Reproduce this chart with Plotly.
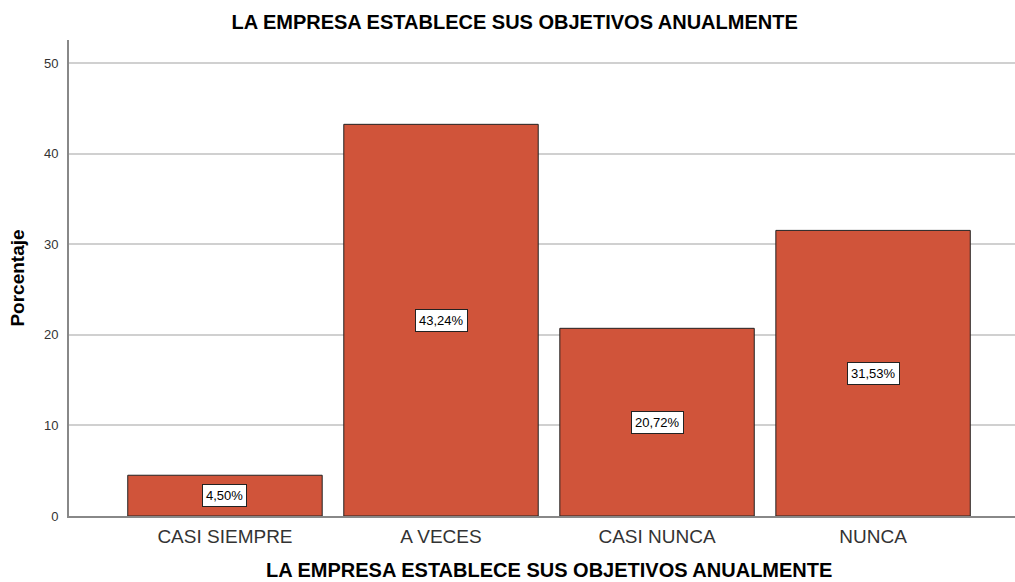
import plotly.graph_objects as go

categories = ["CASI SIEMPRE", "A VECES", "CASI NUNCA", "NUNCA"]
percentages = [4.50, 43.24, 20.72, 31.53]
y_ticks = [0, 10, 20, 30, 40, 50]

TITLE = "LA EMPRESA ESTABLECE SUS OBJETIVOS ANUALMENTE"
FONT = "Liberation Sans, Arial, sans-serif"

fig = go.Figure()
fig.add_bar(
    x=categories, y=percentages,
    marker=dict(color="#D0543A", line=dict(color="#222222", width=1)),
    hoverinfo="x+y",
)

# value labels boxed in the middle of each bar
for cat, val in zip(categories, percentages):
    fig.add_annotation(
        x=cat, y=val / 2,
        text=f"{val:.2f}%".replace(".", ","),
        showarrow=False,
        bgcolor="white", bordercolor="#222222", borderwidth=1, borderpad=3,
        font=dict(size=13, color="black", family=FONT),
    )

# x-axis title, placed as annotation (sits a bit right of the plot centre)
fig.add_annotation(
    x=0.507, y=-0.113, xref="paper", yref="paper",
    xanchor="center", yanchor="middle",
    text=f"<b>{TITLE}</b>", showarrow=False,
    font=dict(size=20, color="black", family=FONT),
)

fig.update_layout(
    width=1015, height=582,
    margin=dict(l=69, r=0, t=40, b=66, autoexpand=False),
    plot_bgcolor="white", paper_bgcolor="white",
    bargap=0.10,
    showlegend=False,
    font=dict(family=FONT, color="black"),
    title=dict(text=f"<b>{TITLE}</b>", x=0.507, xanchor="center",
               y=1 - 22 / 582, yanchor="middle", font=dict(size=20)),
    xaxis=dict(
        range=[-0.722, 3.657],
        tickfont=dict(size=19, color="#333333"),
        showline=True, linecolor="#888888", linewidth=2,
        ticks="", showgrid=False, ticklabelstandoff=2,
    ),
    yaxis=dict(
        range=[0, 52.55],
        tickvals=y_ticks,
        tickfont=dict(size=13, color="#333333"),
        title=dict(text="<b>Porcentaje</b>", font=dict(size=19), standoff=14),
        showline=True, linecolor="#888888", linewidth=2,
        showgrid=True, gridcolor="#D0D0D0", gridwidth=1.5,
        zeroline=False, ticks="", ticklabelstandoff=6,
    ),
)

fig.write_html(
    "out.html",
    config={"displayModeBar": False},
    post_script="document.body.style.margin='0';",
)
